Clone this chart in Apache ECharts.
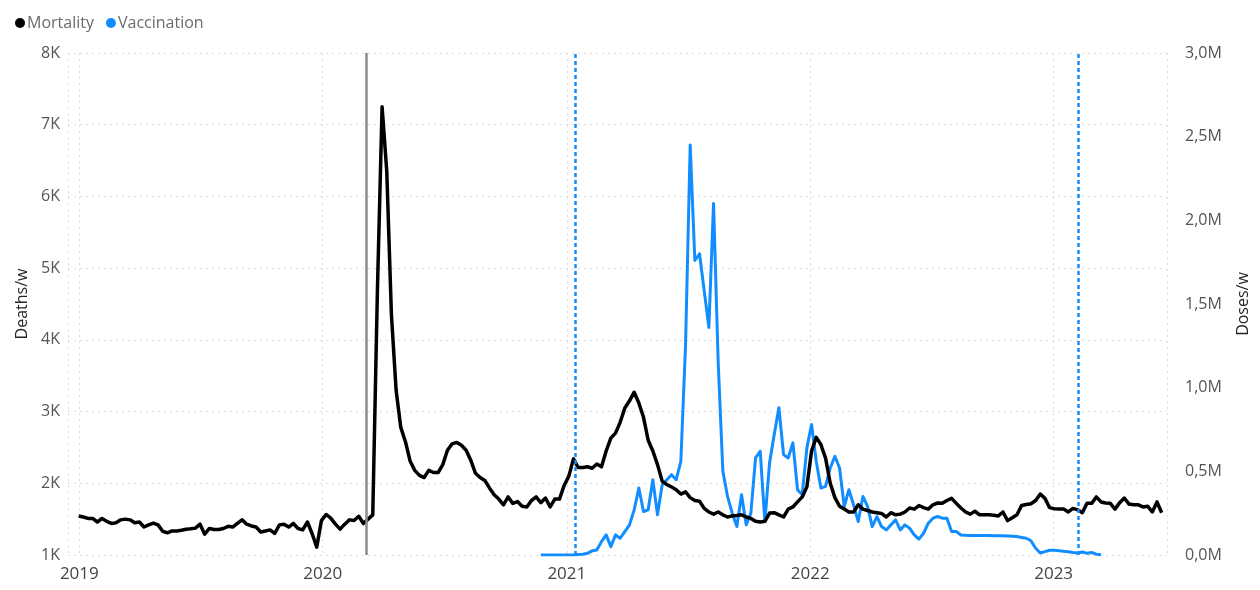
<!DOCTYPE html>
<html>
<head>
<meta charset="utf-8">
<script src="https://cdn.jsdelivr.net/npm/echarts@6/dist/echarts.min.js"></script>
<style>
html,body{margin:0;padding:0;background:#fff;}
#chart{width:1260px;height:590px;}
</style>
</head>
<body>
<div id="chart"></div>
<script>
// Weekly series, first week starting 2018-12-31
var firstWeek = '2018-12-31';
// Deaths per week (Mortality), one value per week from firstWeek
var mortality = [
1544,1530,1510,1510,1460,1510,1470,1440,1450,1490,
1500,1490,1450,1460,1390,1420,1446,1420,1330,1310,
1335,1335,1345,1360,1365,1375,1430,1290,1370,1355,
1355,1370,1400,1390,1440,1490,1430,1405,1390,1320,
1335,1350,1300,1420,1430,1390,1440,1370,1350,1460,
1300,1110,1480,1565,1515,1430,1360,1430,1490,1480,
1540,1440,1500,1560,4700,7250,6350,4350,3300,2780,
2580,2310,2180,2110,2080,2180,2150,2150,2260,2460,
2550,2570,2530,2460,2320,2140,2080,2040,1935,1840,
1780,1700,1810,1720,1745,1680,1670,1760,1810,1730,
1795,1670,1780,1780,1970,2100,2340,2220,2220,2230,
2210,2270,2230,2450,2630,2700,2850,3050,3150,3270,
3120,2920,2600,2450,2260,2030,1980,1950,1910,1850,
1880,1800,1760,1750,1650,1600,1570,1600,1560,1530,
1545,1550,1560,1530,1510,1470,1460,1470,1585,1590,
1560,1530,1640,1670,1740,1810,1950,2450,2640,2540,
2350,2000,1800,1680,1640,1600,1600,1700,1640,1620,
1600,1590,1580,1530,1590,1560,1570,1600,1655,1640,
1690,1660,1640,1700,1725,1720,1760,1790,1720,1655,
1600,1570,1610,1560,1560,1560,1555,1545,1600,1480,
1520,1560,1690,1705,1715,1760,1850,1790,1660,1645,
1640,1640,1600,1650,1630,1590,1720,1720,1810,1740,
1725,1720,1640,1730,1795,1710,1700,1700,1670,1680,
1600,1740,1590
];
// Vaccination doses per week, in millions, starting at week index 99
var vaccinationStartWeek = 99;
var vaccinationM = [
0,0,0,0,0,0,0,0,0.003,0.005,
0.01,0.025,0.03,0.08,0.12,0.05,0.12,0.10,0.14,0.18,
0.27,0.40,0.26,0.27,0.45,0.24,0.42,0.45,0.48,0.45,
0.56,1.25,2.45,1.76,1.80,1.58,1.36,2.10,1.15,0.50,
0.35,0.25,0.17,0.36,0.18,0.25,0.58,0.62,0.20,0.55,
0.72,0.88,0.60,0.58,0.67,0.39,0.36,0.64,0.78,0.56,
0.40,0.41,0.52,0.59,0.52,0.29,0.39,0.30,0.20,0.35,
0.29,0.17,0.23,0.17,0.15,0.18,0.21,0.15,0.18,0.16,
0.12,0.095,0.13,0.19,0.22,0.23,0.22,0.22,0.14,0.14,
0.12,0.118,0.117,0.117,0.116,0.116,0.116,0.115,0.115,0.115,
0.114,0.112,0.11,0.105,0.10,0.085,0.04,0.012,0.02,0.028,
0.028,0.025,0.022,0.02,0.015,0.012,0.018,0.01,0.015,0.005,
0.002
];
// Reference lines
var lockdownDate = '2020-03-06';
var vaccineMarkDates = ['2021-01-13', '2023-02-07'];
// Axis ranges / ticks
var leftTicks = {min: 1000, max: 8000, interval: 1000};
var rightTicks = {min: 0, max: 3.0, interval: 0.5};
var xRange = {min: '2018-12-15', max: '2023-06-20'};

var DAY = 86400000;
function ts(s){ var p = s.split('-'); return Date.UTC(+p[0], +p[1]-1, +p[2]); }
var t0 = ts(firstWeek);
var mortData = mortality.map(function(v, i){ return [t0 + i*7*DAY, v]; });
var vaccData = vaccinationM.map(function(v, i){ return [t0 + (i+vaccinationStartWeek)*7*DAY, v]; });

var FONT = '"Open Sans", "Noto Sans", sans-serif';
var chart = echarts.init(document.getElementById('chart'), null, {renderer: 'canvas'});
var dotted = {type: [2, 4], color: '#dcdcdc', width: 1};
chart.setOption({
  animation: false,
  textStyle: {fontFamily: FONT},
  legend: {
    left: 10, top: 10, icon: 'circle', itemWidth: 10, itemHeight: 10, itemGap: 12,
    textStyle: {color: '#6b6b6b', fontSize: 16, fontFamily: FONT, padding: [0,0,0,-3]},
    data: ['Mortality', 'Vaccination']
  },
  grid: {left: 68, right: 93, top: 53, bottom: 35, containLabel: false},
  xAxis: {
    type: 'time', min: ts(xRange.min), max: ts(xRange.max),
    splitNumber: 4, minInterval: 360*DAY,
    axisLine: {show: false}, axisTick: {show: false},
    splitLine: {show: true, lineStyle: dotted},
    axisLabel: {formatter: '{yyyy}', color: '#444', fontSize: 17, margin: 11, fontFamily: FONT}
  },
  yAxis: [{
    type: 'value', min: leftTicks.min, max: leftTicks.max, interval: leftTicks.interval,
    name: 'Deaths/w', nameLocation: 'middle', nameGap: 38,
    nameTextStyle: {color: '#252423', fontSize: 16, fontFamily: FONT},
    axisLine: {show: false}, axisTick: {show: false},
    splitLine: {show: true, lineStyle: dotted},
    axisLabel: {formatter: function(v){ return (v/1000) + 'K'; }, color: '#555', fontSize: 16, margin: 8, fontFamily: FONT}
  }, {
    type: 'value', min: rightTicks.min, max: rightTicks.max, interval: rightTicks.interval,
    name: 'Doses/w', nameLocation: 'middle', nameGap: 68, nameRotate: 90,
    nameTextStyle: {color: '#252423', fontSize: 16, fontFamily: FONT},
    axisLine: {show: false}, axisTick: {show: false},
    splitLine: {show: false},
    axisLabel: {formatter: function(v){ return v.toFixed(1).replace('.', ',') + 'M'; }, color: '#555', fontSize: 16, margin: 18, fontFamily: FONT}
  }],
  series: [{
    name: 'Mortality', type: 'line', yAxisIndex: 0, data: mortData,
    showSymbol: false, symbol: 'circle', itemStyle: {color: '#000'},
    lineStyle: {color: '#000', width: 3.5, join: 'round'}, z: 3,
    markLine: {
      silent: true, symbol: 'none', label: {show: false},
      data: [
        {xAxis: ts(lockdownDate), lineStyle: {color: '#8c8c8c', width: 2.5, type: 'solid'}}
      ].concat(vaccineMarkDates.map(function(d){
        return {xAxis: ts(d), lineStyle: {color: '#118DFF', width: 2.5, type: [4, 3]}};
      }))
    }
  }, {
    name: 'Vaccination', type: 'line', yAxisIndex: 1, data: vaccData,
    showSymbol: false, symbol: 'circle', itemStyle: {color: '#118DFF'},
    lineStyle: {color: '#118DFF', width: 3, join: 'round'}, z: 2
  }]
});
</script>
</body>
</html>
